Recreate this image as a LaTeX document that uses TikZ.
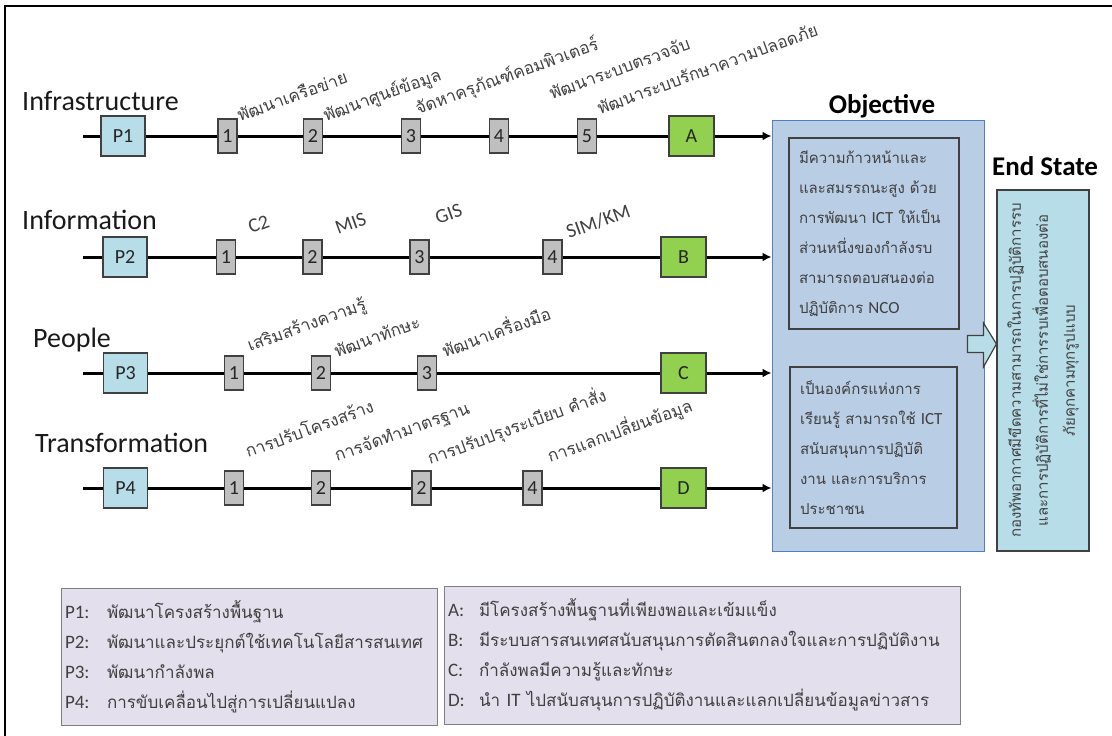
\documentclass[tikz,border=0pt]{standalone}
\usepackage{fontspec}
\setmainfont{Carlito}
\newfontfamily\thaifont[Script=Thai]{Loma}
\usetikzlibrary{calc,arrows.meta}
\newcommand\T[1]{{\thaifont\fontsize{17}{30}\selectfont #1}}
\newcommand\Lat[1]{{\rmfamily\fontsize{17}{30}\selectfont #1}}
\newcommand\fsz[2]{\fontsize{#1}{#2}\selectfont}

\definecolor{boxline}{HTML}{404040}
\definecolor{pfill}{HTML}{B7DEE8}
\definecolor{nfill}{HTML}{BFBFBF}
\definecolor{gfill}{HTML}{92D050}
\definecolor{objfill}{HTML}{B9CDE5}
\definecolor{objline}{HTML}{4F81BD}
\definecolor{legfill}{HTML}{E4DFEC}
\definecolor{legline}{HTML}{7F7F7F}
\definecolor{txt}{HTML}{404040}

\tikzset{
  pbox/.style={draw=boxline, line width=1.2pt, fill=pfill, minimum width=44, minimum height=40,
    inner sep=0, font=\fsz{20}{24}, text=black!85},
  nbox/.style={draw=boxline, line width=1.2pt, fill=nfill, minimum width=19, minimum height=34,
    inner sep=0, font=\fsz{20}{24}, text=black!85},
  gbox/.style={draw=boxline, line width=1.2pt, fill=gfill, minimum width=45, minimum height=40,
    inner sep=0, font=\fsz{20}{24}, text=black!85},
  rowline/.style={line width=3pt, black},
  rowarrow/.style={rowline, -{Latex[length=9pt,width=9pt]}},
  rowname/.style={anchor=base west, inner sep=0, font=\fsz{28}{32}, text=black!90},
  lab/.style={rotate=20, anchor=base west, inner sep=0, text=txt, font=\thaifont\fsz{17}{20}},
  latlab/.style={rotate=20, anchor=base west, inner sep=0, text=txt, font=\fsz{20}{24}},
  title/.style={anchor=base, inner sep=0, font=\bfseries\fsz{27}{30}, text=black},
  innerbox/.style={draw=boxline, line width=1.2pt, align=left, inner xsep=10, inner ysep=0,
    text=txt, font=\thaifont\fsz{15}{30}},
  legbox/.style={draw=legline, line width=1pt, fill=legfill, align=left, inner xsep=4, inner ysep=0,
    text=txt, font=\fsz{19}{30}},
}

\begin{document}
\begin{tikzpicture}[x=1pt,y=-1pt]
\useasboundingbox (0,0) rectangle (1112,736);

% frame of the slide
\draw[line width=2.5pt] (5,736) -- (5,6) -- (1112,6);

% objective block
\node[draw=objline, line width=1pt, fill=objfill, minimum width=212, minimum height=431, inner sep=0]
  (obj) at (878,335.5) {};
\node[title] (objt) at (882,113) {Objective};

\node[innerbox, minimum width=170, minimum height=191, text width=150] (o1) at (874,233.5)
 {\mbox{มีความก้าวหน้าและ}\\
  \mbox{และสมรรถนะสูง ด้วย}\\
  \mbox{การพัฒนา \Lat{ICT} ให้เป็น}\\
  \mbox{ส่วนหนึ่งของกำลังรบ}\\
  \mbox{สามารถตอบสนองต่อ}\\
  \mbox{ปฏิบัติการ \Lat{NCO}}};
\node[innerbox, minimum width=167, minimum height=161, text width=147] (o2) at (873.5,447.5)
 {\mbox{เป็นองค์กรแห่งการ}\\
  \mbox{เรียนรู้ สามารถใช้ \Lat{ICT}}\\
  \mbox{สนับสนุนการปฏิบัติ}\\
  \mbox{งาน และการบริการ}\\
  \mbox{ประชาชน}};

% end state block
\node[draw=boxline, line width=1.2pt, fill=pfill, minimum width=92, minimum height=361, inner sep=0]
  (es) at (1043,370.5) {};
\node[title] (est) at (1045,175) {End State};
\node[rotate=90, align=center, inner sep=0, text=txt, font=\thaifont\fsz{15}{27}] (estx) at (es.center)
 {กองทัพอากาศมีขีดความสามารถในการปฏิบัติการรบ\\
  และการปฏิบัติการที่ไม่ใช่การรบเพื่อตอบสนองต่อ\\
  ภัยคุกคามทุกรูปแบบ};

% block arrow from objective to end state
\coordinate (ba) at ($(obj.east)+(0,8.5)$);
\draw[draw=boxline, line width=1.2pt, fill=pfill]
  ($(ba)+(-17,-8.5)$) -- ($(ba)+(-1,-8.5)$) -- ($(ba)+(-1,-21)$) -- (es.west |- ba)
  -- ($(ba)+(-1,23)$) -- ($(ba)+(-1,8.5)$) -- ($(ba)+(-17,8.5)$) -- cycle;

% row 1: infrastructure
\node[rowname] (r1n) at (22,110) {Infrastructure};
\coordinate (r1) at (83,136);
\node[pbox] (P1) at (123,136) {P1};
\node[nbox] (i1) at (227.5,136) {1};
\node[nbox] (i2) at (313,136) {2};
\node[nbox] (i3) at (411,136) {3};
\node[nbox] (i4) at (499,136) {4};
\node[nbox] (i5) at (587,136) {5};
\node[gbox] (A) at (691.5,136) {A};
\draw[rowline] (r1) -- (P1) -- (i1) -- (i2) -- (i3) -- (i4) -- (i5) -- (A);
\draw[rowarrow] (A) -- (A -| obj.west);
\node[lab] at (240,122) {พัฒนาเครือข่าย};
\node[lab] at (326,122) {พัฒนาศูนย์ข้อมูล};
\node[lab] at (418,115) {จัดหาครุภัณฑ์คอมพิวเตอร์};
\node[lab] at (552,100) {พัฒนาระบบตรวจจับ};
\node[lab] at (600,115) {พัฒนาระบบรักษาความปลอดภัย};

% row 2: information
\node[rowname] (r2n) at (22,229) {Information};
\coordinate (r2) at (83,257);
\node[pbox] (P2) at (125,257) {P2};
\node[nbox] (j1) at (226,257) {1};
\node[nbox] (j2) at (312.5,257) {2};
\node[nbox] (j3) at (419.5,257) {3};
\node[nbox] (j4) at (552.5,257) {4};
\node[gbox] (B) at (683.5,257) {B};
\draw[rowline] (r2) -- (P2) -- (j1) -- (j2) -- (j3) -- (j4) -- (B);
\draw[rowarrow] (B) -- (B -| obj.west);
\node[latlab] at (251,234) {C2};
\node[latlab] at (338,235) {MIS};
\node[latlab] at (438,225) {GIS};
\node[latlab] at (569,239) {SIM/KM};

% row 3: people
\node[rowname] (r3n) at (33,347) {People};
\coordinate (r3) at (83,373);
\node[pbox] (P3) at (125.5,373) {P3};
\node[nbox] (k1) at (234,373) {1};
\node[nbox] (k2) at (321,373) {2};
\node[nbox] (k3) at (427,373) {3};
\node[gbox] (C) at (683.5,373) {C};
\draw[rowline] (r3) -- (P3) -- (k1) -- (k2) -- (k3) -- (C);
\draw[rowarrow] (C) -- (C -| obj.west);
\node[lab] at (250,352) {เสริมสร้างความรู้};
\node[lab] at (337,358) {พัฒนาทักษะ};
\node[lab] at (445,358) {พัฒนาเครื่องมือ};

% row 4: transformation
\node[rowname] (r4n) at (35,452) {Transformation};
\coordinate (r4) at (83,488);
\node[pbox] (P4) at (125.5,488) {P4};
\node[nbox] (m1) at (234,488) {1};
\node[nbox] (m2) at (321,488) {2};
\node[nbox] (m3) at (421.5,488) {2};
\node[nbox] (m4) at (532.5,488) {4};
\node[gbox] (D) at (683.5,488) {D};
\draw[rowline] (r4) -- (P4) -- (m1) -- (m2) -- (m3) -- (m4) -- (D);
\draw[rowarrow] (D) -- (D -| obj.west);
\node[lab] at (248,458) {การปรับโครงสร้าง};
\node[lab] at (337,462) {การจัดทำมาตรฐาน};
\node[lab] at (430,465) {การปรับปรุงระเบียบ คำสั่ง};
\node[lab] at (550,463) {การแลกเปลี่ยนข้อมูล};

% legends
\node[legbox, minimum width=376, minimum height=137, text width=368] (lp) at (249,656.5)
 {\makebox[42pt][l]{P1:}\T{พัฒนาโครงสร้างพื้นฐาน}\\
  \makebox[42pt][l]{P2:}\T{พัฒนาและประยุกต์ใช้เทคโนโลยีสารสนเทศ}\\
  \makebox[42pt][l]{P3:}\T{พัฒนากำลังพล}\\
  \makebox[42pt][l]{P4:}\T{การขับเคลื่อนไปสู่การเปลี่ยนแปลง}};
\node[legbox, minimum width=516, minimum height=138, text width=508] (la) at (702,655)
 {\makebox[31pt][l]{A:}\T{มีโครงสร้างพื้นฐานที่เพียงพอและเข้มแข็ง}\\
  \makebox[31pt][l]{B:}\T{มีระบบสารสนเทศสนับสนุนการตัดสินตกลงใจและการปฏิบัติงาน}\\
  \makebox[31pt][l]{C:}\T{กำลังพลมีความรู้และทักษะ}\\
  \makebox[31pt][l]{D:}\T{นำ} IT \T{ไปสนับสนุนการปฏิบัติงานและแลกเปลี่ยนข้อมูลข่าวสาร}};
\end{tikzpicture}
\end{document}
